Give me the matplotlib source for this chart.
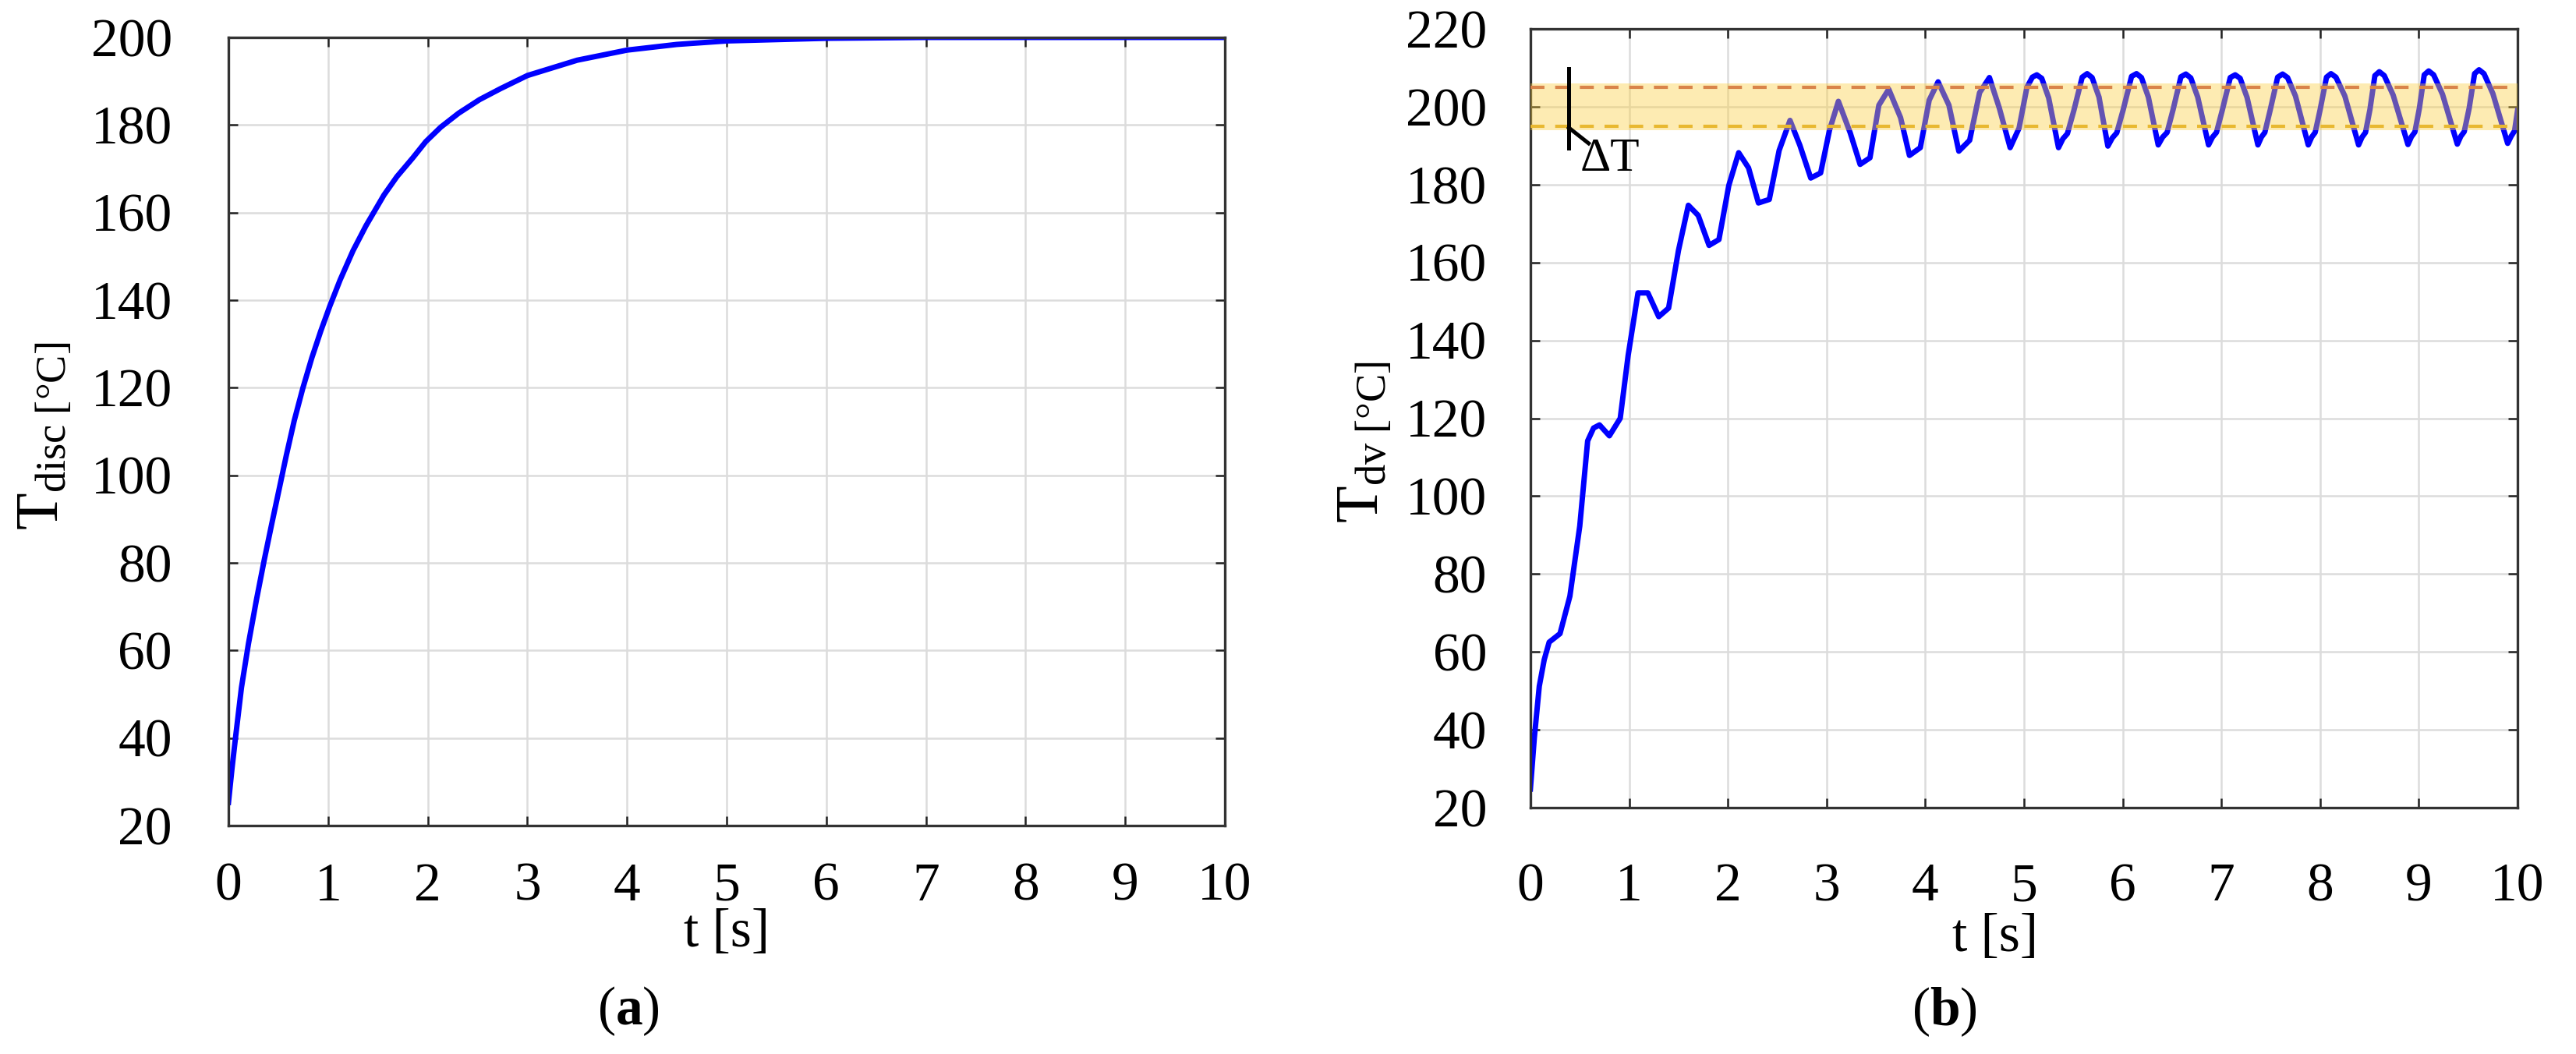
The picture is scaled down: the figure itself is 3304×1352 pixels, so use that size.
import matplotlib
matplotlib.use("Agg")
import matplotlib.pyplot as plt

plt.rcParams['font.family'] = ['Liberation Serif', 'DejaVu Serif']
plt.rcParams['mathtext.fontset'] = 'custom'
plt.rcParams['mathtext.rm'] = 'Liberation Serif'
plt.rcParams['mathtext.it'] = 'Liberation Serif:italic'
plt.rcParams['mathtext.bf'] = 'Liberation Serif:bold'

# (a) disc temperature
t_disc = [0.0, 0.035, 0.07, 0.13, 0.20, 0.28, 0.36, 0.435, 0.51, 0.58, 0.66, 0.745,
          0.836, 0.927, 1.018, 1.12, 1.25, 1.38, 1.47, 1.56, 1.69, 1.85, 1.98, 2.13,
          2.31, 2.52, 2.73, 3.0, 3.5, 4.0, 4.5, 5.0, 6.0, 7.0, 8.0, 9.0, 10.0]
T_disc = [25.3, 33.0, 40.0, 51.5, 61.5, 71.5, 80.8, 89.0, 97.0, 104.5, 112.5, 119.8,
          126.8, 133.0, 138.7, 144.6, 151.3, 157.0, 160.5, 164.0, 168.2, 172.5, 176.2, 179.5,
          182.7, 185.8, 188.3, 191.3, 194.8, 197.1, 198.4, 199.2, 199.8, 200.0, 200.0, 200.0, 200.0]

# (b) temperature T_dv
t_dv = [0.0, 0.04, 0.09, 0.14, 0.19, 0.30, 0.40, 0.50, 0.58, 0.64, 0.70, 0.80,
        0.91, 0.99, 1.09, 1.19, 1.30, 1.40, 1.50, 1.60, 1.70, 1.81, 1.91, 2.01,
        2.11, 2.21, 2.31, 2.42, 2.52, 2.63, 2.73, 2.84, 2.94, 3.03, 3.12, 3.24,
        3.34, 3.44, 3.53, 3.63, 3.75, 3.84, 3.95, 4.04, 4.13, 4.24, 4.34, 4.45,
        4.55, 4.65, 4.75, 4.86, 4.91, 4.95, 5.03, 5.085,
        5.13, 5.18, 5.25, 5.35, 5.395, 5.44, 5.505, 5.59,
        5.64, 5.69, 5.76, 5.85, 5.895, 5.94, 6.005, 6.09,
        6.14, 6.19, 6.26, 6.36, 6.405, 6.45, 6.51, 6.59,
        6.64, 6.69, 6.76, 6.87, 6.91, 6.95, 7.01, 7.09,
        7.14, 7.19, 7.26, 7.37, 7.405, 7.44, 7.495, 7.57,
        7.62, 7.67, 7.75, 7.88, 7.915, 7.95, 8.0, 8.065,
        8.11, 8.16, 8.25, 8.39, 8.425, 8.46, 8.505, 8.555,
        8.60, 8.65, 8.74, 8.89, 8.925, 8.96, 9.005, 9.055,
        9.10, 9.15, 9.24, 9.39, 9.425, 9.46, 9.51, 9.565,
        9.61, 9.66, 9.75, 9.90, 9.935, 9.97, 10.0]
T_dv = [24.8, 38.0, 51.2, 58.0, 62.5, 64.7, 74.3, 92.3, 114.2, 117.5, 118.3, 115.5,
        120.0, 136.1, 152.2, 152.2, 146.1, 148.3, 163.1, 174.7, 172.1, 164.4, 165.9, 179.8,
        188.2, 184.3, 175.3, 176.2, 188.8, 196.5, 190.1, 181.7, 183.0, 194.0, 201.4, 193.3,
        185.2, 186.9, 200.4, 204.5, 197.2, 187.5, 189.5, 201.7, 206.4, 200.4, 188.6, 191.4,
        203.6, 207.5, 199.7, 189.5, 192.3, 194.5, 205.0, 207.6,
        208.2, 207.3, 202.3, 189.5, 191.8, 193.1, 199.0, 207.6,
        208.5, 207.5, 202.5, 189.9, 192.0, 193.3, 199.2, 207.8,
        208.5, 207.5, 202.5, 190.2, 192.2, 193.4, 199.2, 207.7,
        208.4, 207.4, 202.5, 190.2, 192.2, 193.4, 199.2, 207.5,
        208.2, 207.3, 202.4, 190.2, 192.2, 193.4, 199.2, 207.6,
        208.4, 207.5, 202.8, 190.2, 192.2, 193.4, 199.2, 207.6,
        208.5, 207.6, 202.8, 190.2, 192.2, 193.4, 199.3, 208.0,
        209.0, 208.0, 203.0, 190.3, 192.3, 193.5, 199.5, 208.2,
        209.2, 208.2, 203.2, 190.4, 192.4, 193.6, 199.6, 208.5,
        209.5, 208.5, 203.4, 190.6, 192.4, 193.8, 199.0]

x_ticks = list(range(0, 11))
y_ticks_a = list(range(20, 201, 20))
y_ticks_b = list(range(20, 221, 20))

# tolerance band and the Delta T marker in (b)
band_fill = (194, 206)
band_upper = 205
band_lower = 195
dT_bar_t = [0.39, 0.39]
dT_bar_T = [189.4, 209.8]
dT_leg_t = [0.39, 0.59]
dT_leg_T = [194.6, 190.6]
dT_text_pos = (0.50, 183.6)

fig = plt.figure(figsize=(16.52, 6.76), dpi=200)
ax1 = fig.add_axes([0.0887, 0.2167, 0.3868, 0.7478])
ax2 = fig.add_axes([0.5941, 0.2337, 0.3832, 0.7389])

for ax in (ax1, ax2):
    ax.set_xlim(0, 10)
    ax.set_xticks(x_ticks)
    ax.grid(True, color='#dcdcdc', lw=0.9)
    ax.set_axisbelow(True)
    ax.tick_params(direction='in', length=4.3, width=0.9, top=True, right=True,
                   labelsize=25, color='#222222')
    for s in ax.spines.values():
        s.set_linewidth(1.2)
        s.set_color('#333333')

# (a)
ax1.plot(t_disc, T_disc, color='#0000ff', lw=2.5)
ax1.set_ylim(20, 200)
ax1.set_yticks(y_ticks_a)
ax1.tick_params(axis='y', pad=26)
ax1.tick_params(axis='x', pad=17)
ax1.set_xlabel('t [s]', fontsize=25, va='center')
ax1.xaxis.set_label_coords(0.5, -0.1365)
ax1.set_ylabel(r'$\mathrm{T}_{\mathrm{disc}\ \mathrm{[°C]}}$', fontsize=28, va='center')
ax1.yaxis.set_label_coords(-0.184, 0.4946)

# (b)
ax2.plot(t_dv, T_dv, color='#0000ff', lw=2.5, zorder=2)
ax2.fill_between([0, 10], band_fill[0], band_fill[1], color='#fbcf40', alpha=0.40,
                 lw=0, zorder=3)
ax2.axhline(band_upper, color='#d9844a', ls=(0, (4.3, 3.3)), lw=1.5, zorder=4)
ax2.axhline(band_lower, color='#e8b830', ls=(0, (4.3, 3.3)), lw=1.5, zorder=4)
ax2.plot(dT_bar_t, dT_bar_T, color='black', lw=1.8, zorder=5)
ax2.plot(dT_leg_t, dT_leg_T, color='black', lw=1.8, zorder=5)
ax2.text(dT_text_pos[0], dT_text_pos[1], '\u0394T', fontsize=22, va='baseline',
         ha='left', zorder=5)
ax2.set_ylim(20, 220)
ax2.set_yticks(y_ticks_b)
ax2.tick_params(axis='y', pad=20)
ax2.tick_params(axis='x', pad=25.5)
ax2.set_xlabel('t [s]', fontsize=25, va='center')
ax2.xaxis.set_label_coords(0.471, -0.167)
ax2.set_ylabel(r'$\mathrm{T}_{\mathrm{dv}\ \mathrm{[°C]}}$', fontsize=28, va='center')
ax2.yaxis.set_label_coords(-0.168, 0.469)

fig.text(806 / 3304, 1 - 1297 / 1352, r'($\mathbf{a}$)', ha='center', va='center', fontsize=25)
fig.text(2494 / 3304, 1 - 1298 / 1352, r'($\mathbf{b}$)', ha='center', va='center', fontsize=25)

fig.savefig('out.png', dpi=200)
